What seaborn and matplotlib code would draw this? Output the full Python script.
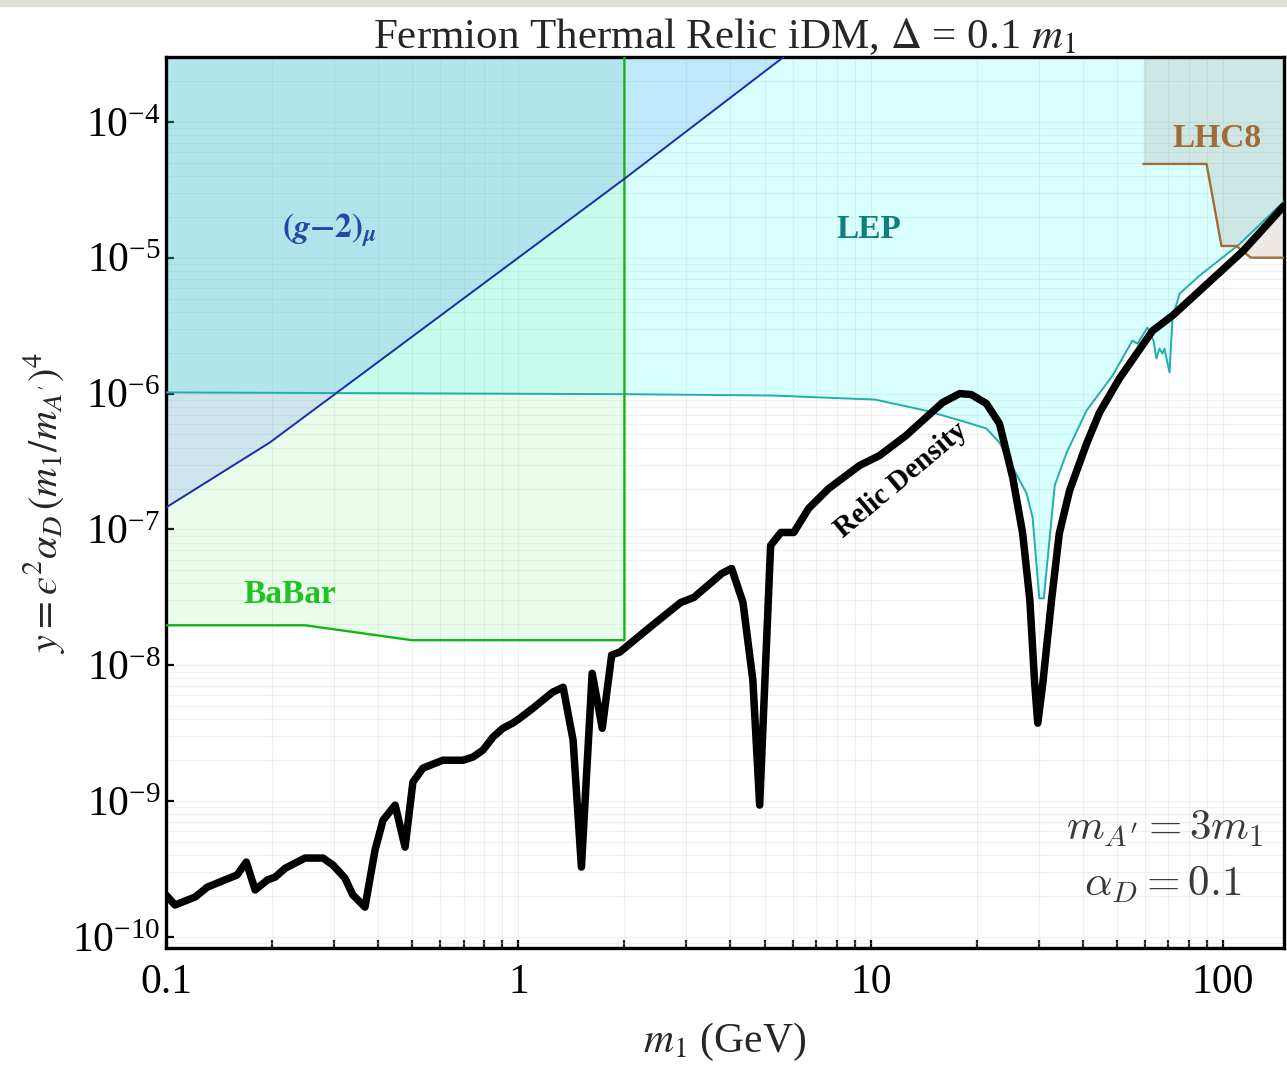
import numpy as np
import matplotlib
matplotlib.use("Agg")
import matplotlib.pyplot as plt
import matplotlib.ticker as mticker
from matplotlib.patches import Rectangle
import seaborn as sns

# relic density curve (m1 in GeV, y)
relic_x = [0.1, 0.106, 0.121, 0.131, 0.159, 0.169, 0.179, 0.194, 0.204, 0.218,
           0.248, 0.279, 0.298, 0.322, 0.339, 0.367, 0.392, 0.413, 0.447, 0.477,
           0.502, 0.536, 0.610, 0.696, 0.743, 0.793, 0.847, 0.904, 0.964, 1.01,
           1.10, 1.25, 1.34, 1.43, 1.51, 1.62, 1.73, 1.84, 1.94, 2.36,
           2.89, 3.15, 3.78, 4.03, 4.34, 4.63, 4.84, 5.20, 5.56, 6.05,
           6.67, 7.60, 9.31, 10.6, 12.6, 16.0, 17.9, 19.3, 21.3, 23.2,
           25.3, 27.0, 28.3, 29.2, 29.8, 30.8, 32.6, 34.3, 36.7, 41.0,
           44.6, 50.8, 63.1, 71.9, 114, 149]
relic_y = [2.04e-10, 1.72e-10, 1.97e-10, 2.33e-10, 2.86e-10, 3.56e-10, 2.22e-10, 2.63e-10, 2.76e-10, 3.21e-10,
           3.81e-10, 3.81e-10, 3.38e-10, 2.71e-10, 2.04e-10, 1.66e-10, 4.37e-10, 7.25e-10, 9.35e-10, 4.59e-10,
           1.38e-9, 1.75e-9, 2.00e-9, 2.00e-9, 2.11e-9, 2.37e-9, 2.96e-9, 3.44e-9, 3.75e-9, 4.08e-9,
           4.83e-9, 6.33e-9, 6.89e-9, 2.81e-9, 3.27e-10, 8.73e-9, 3.44e-9, 1.19e-8, 1.25e-8, 1.90e-8,
           2.90e-8, 3.16e-8, 4.74e-8, 5.16e-8, 2.90e-8, 7.76e-9, 9.35e-10, 7.62e-8, 9.50e-8, 9.50e-8,
           1.43e-7, 2.00e-7, 2.96e-7, 3.50e-7, 4.91e-7, 8.59e-7, 1.00e-6, 9.83e-7, 8.44e-7, 6.01e-7,
           2.41e-7, 9.35e-8, 3.01e-8, 7.38e-9, 3.75e-9, 7.38e-9, 3.01e-8, 9.35e-8, 1.94e-7, 4.28e-7,
           7.24e-7, 1.29e-6, 2.90e-6, 3.75e-6, 1.12e-5, 2.41e-5]

# LEP bound
lep_x = [0.1, 2.0, 5.27, 10.3, 14.3, 18.0, 21.3, 23.2, 27.7, 28.8,
         30.1, 31.0, 33.3, 36.0, 41.0, 48.6, 55.3, 57.2, 61.0, 63.5,
         64.7, 66.0, 67.3, 68.2, 70.5, 71.9, 75.3, 85.8, 111, 149]
lep_y = [1.02e-6, 9.9e-7, 9.67e-7, 9.03e-7, 7.5e-7, 6.33e-7, 5.53e-7, 4.36e-7, 1.84e-7, 1.23e-7,
         3.11e-8, 3.11e-8, 2.11e-7, 3.68e-7, 7.5e-7, 1.36e-6, 2.45e-6, 2.33e-6, 3.06e-6, 2.45e-6,
         1.81e-6, 2.14e-6, 1.97e-6, 2.14e-6, 1.43e-6, 3.62e-6, 5.44e-6, 7.38e-6, 1.25e-5, 2.6e-5]

# BaBar bound
babar_x = [0.1, 0.248, 0.499, 2.0]
babar_y = [1.97e-8, 1.97e-8, 1.53e-8, 1.53e-8]

# (g-2)_mu bound
g2_x = [0.1, 0.197, 0.303, 1.0, 2.0, 5.62, 8.0]
g2_y = [1.45e-7, 4.36e-7, 1.0e-6, 1.0e-5, 3.81e-5, 2.96e-4, 6.0e-4]

# LHC8 bound
lhc_x = [59.4, 89.8, 99.0, 109, 120, 149]
lhc_y = [4.9e-5, 4.9e-5, 1.22e-5, 1.22e-5, 1.0e-5, 1.0e-5]

sns.set_style("ticks")
plt.rcParams["font.family"] = ["Liberation Serif", "DejaVu Serif"]
plt.rcParams["mathtext.fontset"] = "stix"

fig, ax = plt.subplots(figsize=(12.87, 10.66), dpi=100)
fig.subplots_adjust(left=0.129, right=0.9977, bottom=0.1107, top=0.9465)
fig.patches.append(Rectangle((0, 1 - 6 / 1066), 1, 6 / 1066, transform=fig.transFigure,
                             color="#e0e0da", zorder=0))

ax.set_xscale("log")
ax.set_yscale("log")
ax.set_xlim(0.1, 149)
ax.set_ylim(8.3e-11, 3.0e-4)

top = 1e-2
ax.fill_between(lep_x, lep_y, top, color="#00ffff", alpha=0.15, lw=0, zorder=1)
ax.fill_between(babar_x, babar_y, top, color=(0.45, 0.92, 0.5), alpha=0.15, lw=0, zorder=1)
ax.fill_between(g2_x, g2_y, top, color=(0.2, 0.4, 0.9), alpha=0.15, lw=0, zorder=1)
ax.fill_between(lhc_x, lhc_y, top, color=(0.55, 0.4, 0.3), alpha=0.15, lw=0, zorder=1)

sns.lineplot(x=lep_x, y=lep_y, sort=False, estimator=None, color="#1fb0ae", lw=1.4, ax=ax, zorder=3)
sns.lineplot(x=babar_x + [2.0], y=babar_y + [top], sort=False, estimator=None,
             color="#14b414", lw=1.7, ax=ax, zorder=3)
sns.lineplot(x=g2_x, y=g2_y, sort=False, estimator=None, color="#1c2ca8", lw=1.4, ax=ax, zorder=3)
sns.lineplot(x=lhc_x, y=lhc_y, sort=False, estimator=None, color="#a36d38", lw=1.7, ax=ax, zorder=3)
sns.lineplot(x=relic_x, y=relic_y, sort=False, estimator=None, color="black", lw=5.4, ax=ax, zorder=4)

# ticks and faint grid like Mathematica
ax.xaxis.set_major_locator(mticker.FixedLocator([0.1, 1, 10, 100]))
ax.xaxis.set_major_formatter(mticker.FixedFormatter(["0.1", "1", "10", "100"]))
ax.xaxis.set_minor_locator(mticker.LogLocator(base=10, subs=np.arange(2, 10)))
ax.xaxis.set_minor_formatter(mticker.NullFormatter())
ax.yaxis.set_major_locator(mticker.LogLocator(base=10, numticks=20))
ax.yaxis.set_major_formatter(mticker.LogFormatterSciNotation())
ax.yaxis.set_minor_locator(mticker.LogLocator(base=10, subs=np.arange(2, 10), numticks=20))
ax.yaxis.set_minor_formatter(mticker.NullFormatter())
ax.grid(which="both", color="#d6d6d6", alpha=0.35, lw=0.8, zorder=2)
ax.set_axisbelow(True)

ax.tick_params(axis="both", which="major", direction="in", length=6, width=1.6,
               labelsize=30, colors="black", top=False, right=False)
ax.tick_params(axis="x", which="major", pad=11)
ax.tick_params(axis="y", which="major", pad=4)
ax.tick_params(axis="x", which="minor", direction="in", length=6, width=1.6, top=False)
ax.tick_params(axis="y", which="minor", length=0, left=False, right=False)
for s in ax.spines.values():
    s.set_linewidth(2.4)
    s.set_color("black")
    s.set_visible(True)

ax.set_title(r"Fermion Thermal Relic iDM, $\Delta$ = 0.1 $m_1$", fontsize=31, pad=4)
ax.set_xlabel(r"$m_1$ (GeV)", fontsize=30, labelpad=14)
ax.set_ylabel("$y = \u03f5^2\\alpha_D\\,(m_1/m_{A'})^4$", fontsize=29, labelpad=4)

ax.text(0.29, 1.6e-5, r"$\mathbf{(}\mathbfit{g}\mathbf{-2)}_{\mathbfit{\mu}}$", color="#2a44a8",
        fontsize=24, ha="center", va="center", zorder=5)
ax.text(9.9, 1.6e-5, "LEP", color="#0e7f7c", fontsize=24, fontweight="bold",
        ha="center", va="center", zorder=5)
ax.text(96, 7.5e-5, "LHC8", color="#a26a35", fontsize=24, fontweight="bold",
        ha="center", va="center", zorder=5)
ax.text(0.225, 3.3e-8, "BaBar", color="#1fc21f", fontsize=24, fontweight="bold",
        ha="center", va="center", zorder=5)
ax.text(12.2, 2.3e-7, "Relic Density", color="black", fontsize=21, fontweight="bold",
        rotation=40, rotation_mode="anchor", ha="center", va="center", zorder=5)

ax.text(0.981, 0.134, r"$m_{A'} = 3m_1$", transform=ax.transAxes, color="#3a3a3a",
        fontsize=31, ha="right", va="center", math_fontfamily="cm", zorder=5)
ax.text(0.962, 0.071, r"$\alpha_D = 0.1$", transform=ax.transAxes, color="#3a3a3a",
        fontsize=31, ha="right", va="center", math_fontfamily="cm", zorder=5)

fig.savefig("out.png", dpi=100)
